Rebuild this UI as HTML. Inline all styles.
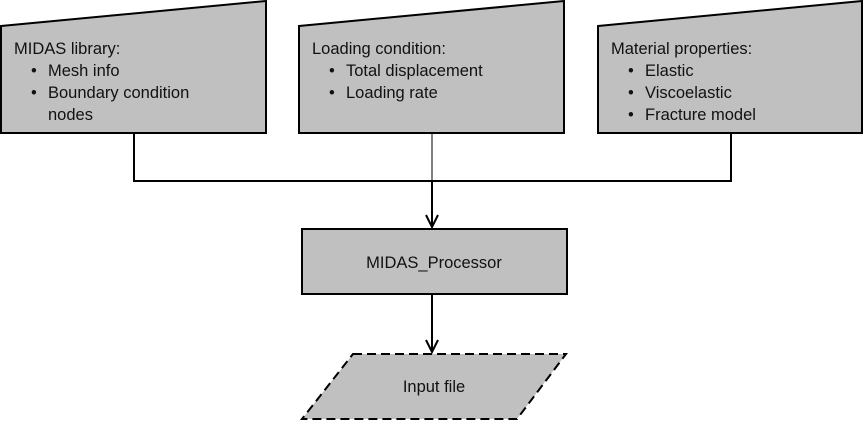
<!DOCTYPE html>
<html><head><style>
body{margin:0;background:#fff}
svg text{font-family:"Liberation Sans",Arial,sans-serif;font-size:16.5px;fill:#111}
</style></head><body>
<svg width="864" height="421" viewBox="0 0 864 421" xmlns="http://www.w3.org/2000/svg">
<g fill="#c0c0c0" stroke="#000" stroke-width="2">
<polygon points="1,26 266,1 266,133 1,133"/>
<polygon points="299,26 564,1 564,133 299,133"/>
<polygon points="598,26 862,1 862,133 598,133"/>
<rect x="302" y="229" width="265" height="65"/>
<polygon points="353,354 566,354 517,419 302,419" stroke-dasharray="9,5"/>
</g>
<g fill="none" stroke="#000" stroke-width="2">
<polyline points="134,133 134,181 731,181 731,133"/>
<line x1="432" y1="181" x2="432" y2="227"/>
<polyline points="426,215 432,227 438,215"/>
<line x1="432" y1="294" x2="432" y2="352"/>
<polyline points="426,340 432,352 438,340"/>
</g>
<line x1="432" y1="133" x2="432" y2="181" stroke="#000" stroke-width="1"/>
<text x="14" y="54">MIDAS library:</text>
<text x="31" y="76">•</text><text x="48" y="76">Mesh info</text>
<text x="31" y="98">•</text><text x="48" y="98">Boundary condition</text>
<text x="48" y="120">nodes</text>
<text x="312" y="54">Loading condition:</text>
<text x="329" y="76">•</text><text x="346" y="76">Total displacement</text>
<text x="329" y="98">•</text><text x="346" y="98">Loading rate</text>
<text x="611" y="54">Material properties:</text>
<text x="628" y="76">•</text><text x="645" y="76">Elastic</text>
<text x="628" y="98">•</text><text x="645" y="98">Viscoelastic</text>
<text x="628" y="120">•</text><text x="645" y="120">Fracture model</text>
<text x="434" y="268" text-anchor="middle">MIDAS_Processor</text>
<text x="434" y="392" text-anchor="middle">Input file</text>
</svg>
</body></html>
